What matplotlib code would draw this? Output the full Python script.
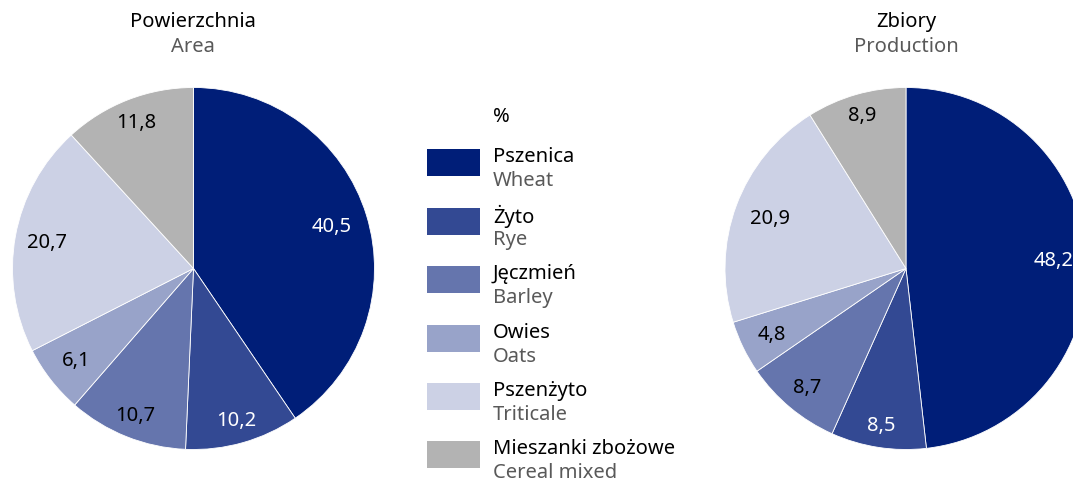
import numpy as np
import matplotlib
matplotlib.use("Agg")
import matplotlib.pyplot as plt

plt.rcParams['font.family'] = ['Noto Sans', 'DejaVu Sans']

names_pl = ["Pszenica", "Żyto", "Jęczmień", "Owies", "Pszenżyto", "Mieszanki zbożowe"]
names_en = ["Wheat", "Rye", "Barley", "Oats", "Triticale", "Cereal mixed"]
area = [40.5, 10.2, 10.7, 6.1, 20.7, 11.8]
production = [48.2, 8.5, 8.7, 4.8, 20.9, 8.9]
colors = ["#001e78", "#334993", "#6575ad", "#98a3c9", "#ccd1e5", "#b3b3b3"]
label_colors = ["white", "white", "black", "black", "black", "black"]
area_label_r = [0.80, 0.87, 0.87, 0.82, 0.82, 0.87]
prod_label_r = [0.815, 0.875, 0.85, 0.825, 0.80, 0.88]

W, H = 1073, 481
fig = plt.figure(figsize=(W / 100, H / 100), dpi=100)
GRAY = "#595959"
FS = 14.5


def px_axes(x0, y0, w, h):
    return fig.add_axes([x0 / W, 1 - (y0 + h) / H, w / W, h / H])


def draw_pie(ax, vals, label_r):
    wedges, _ = ax.pie(vals, colors=colors, startangle=90, counterclock=False,
                       wedgeprops=dict(edgecolor="white", linewidth=0.6))
    for w, v, r, c in zip(wedges, vals, label_r, label_colors):
        ang = np.deg2rad((w.theta1 + w.theta2) / 2)
        ax.text(r * np.cos(ang), r * np.sin(ang), f"{v:.1f}".replace(".", ","),
                ha="center", va="center", fontsize=FS, color=c)
    ax.set_xlim(-1, 1)
    ax.set_ylim(-1, 1)
    ax.set_aspect("equal")
    ax.axis("off")


R = 181
ax1 = px_axes(193.5 - R, 269.5 - R, 2 * R, 2 * R)
draw_pie(ax1, area, area_label_r)
ax2 = px_axes(906 - R, 269.5 - R, 2 * R, 2 * R)
draw_pie(ax2, production, prod_label_r)

fig.text(193 / W, 1 - 22 / H, "Powierzchnia", ha="center", va="center", fontsize=FS, color="black")
fig.text(193 / W, 1 - 47 / H, "Area", ha="center", va="center", fontsize=FS, color=GRAY)
fig.text(906 / W, 1 - 22 / H, "Zbiory", ha="center", va="center", fontsize=FS, color="black")
fig.text(906 / W, 1 - 47 / H, "Production", ha="center", va="center", fontsize=FS, color=GRAY)

# legend
fig.text(493 / W, 1 - 117 / H, "%", ha="left", va="center", fontsize=FS, color="black")
box_tops = [150, 209, 267, 326, 384, 442]
for top, c, pl, en in zip(box_tops, colors, names_pl, names_en):
    fig.patches.append(plt.Rectangle((427 / W, 1 - (top + 27) / H), 53 / W, 27 / H,
                                     transform=fig.transFigure, facecolor=c, edgecolor="none"))
    fig.text(493 / W, 1 - (top + 7) / H, pl, ha="left", va="center", fontsize=FS, color="black")
    fig.text(493 / W, 1 - (top + 31) / H, en, ha="left", va="center", fontsize=FS, color=GRAY)

fig.savefig("out.png", dpi=100, facecolor="white")
